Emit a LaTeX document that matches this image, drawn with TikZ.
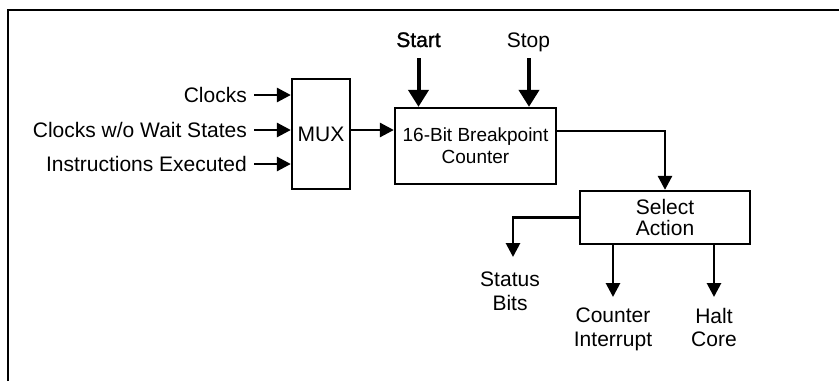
\documentclass[tikz,border=0pt]{standalone}
\usepackage{fontspec}
\setmainfont{Liberation Sans}
\newfontfamily\startfnt[FakeBold=1.2]{Liberation Sans}
\usetikzlibrary{arrows.meta}
\begin{document}
\begin{tikzpicture}[x=1pt,y=-1pt,
  box/.style={draw, line width=2.3pt, inner sep=0pt, align=center},
  lbl/.style={inner sep=0pt, font=\fontsize{21}{24}\selectfont},
  arr/.style={line width=2.8pt, -{Triangle[length=14pt,width=14pt]}},
  bigarr/.style={line width=4pt, -{Triangle[length=17pt,width=20pt]}}]
\useasboundingbox (0,0) rectangle (839,381);
% frame
\draw[line width=2.5pt] (8,381) -- (8,10) -- (839,10);
% boxes
\node[box, minimum width=58pt, minimum height=110pt, font=\fontsize{21}{24}\selectfont] (mux) at (321,134) {MUX};
\node[box, minimum width=161pt, minimum height=76pt, font=\fontsize{19}{22}\selectfont] (cnt) at (475.5,146) {16-Bit Breakpoint\\Counter};
\node[box, minimum width=170pt, minimum height=53pt, font=\fontsize{21}{21}\selectfont] (sel) at (665,217.5) {Select\\Action};
% input labels
\node[lbl, anchor=base east] (clk) at (247,102) {Clocks};
\node[lbl, anchor=base east] (cws) at (247,137) {Clocks w/o Wait States};
\node[lbl, anchor=base east] (ins) at (247,171) {Instructions Executed};
\coordinate (c1) at (254,95);
\coordinate (c2) at (254,130);
\coordinate (c3) at (254,164);
\draw[arr] (c1) -- (c1 -| mux.west);
\draw[arr] (c2) -- (c2 -| mux.west);
\draw[arr] (c3) -- (c3 -| mux.west);
% mux to counter
\draw[arr] ([yshift=4pt]mux.east) -- ([yshift=4pt]mux.east -| cnt.west);
% start / stop
\node[lbl, anchor=base, font=\fontsize{21}{24}\startfnt] (start) at (418.5,47) {Start};
\node[lbl, anchor=base] (stop) at (528.5,47) {Stop};
\coordinate (s1) at (418.5,58);
\coordinate (s2) at (529,58);
\draw[bigarr] (s1) -- (s1 |- cnt.north);
\draw[bigarr] (s2) -- (s2 |- cnt.north);
% counter to select
\draw[arr] ([yshift=15pt]cnt.east) -| (sel.north);
% outputs
\node[lbl, anchor=north, align=center, font=\fontsize{21}{24}\selectfont] (stat) at (510,272) {Status\\Bits};
\node[lbl, anchor=north, align=center, font=\fontsize{21}{23.4}\selectfont] (ci) at (613,308) {Counter\\Interrupt};
\node[lbl, anchor=north, align=center, font=\fontsize{21}{23.4}\selectfont] (halt) at (714,308) {Halt\\Core};
\coordinate (st) at (513,257);
\draw[arr] (sel.west) -| (st);
\draw[arr] (sel.south -| ci.north) -- ([yshift=11pt]ci.north);
\draw[arr] (sel.south -| halt.north) -- ([yshift=11pt]halt.north);
\end{tikzpicture}
\end{document}
